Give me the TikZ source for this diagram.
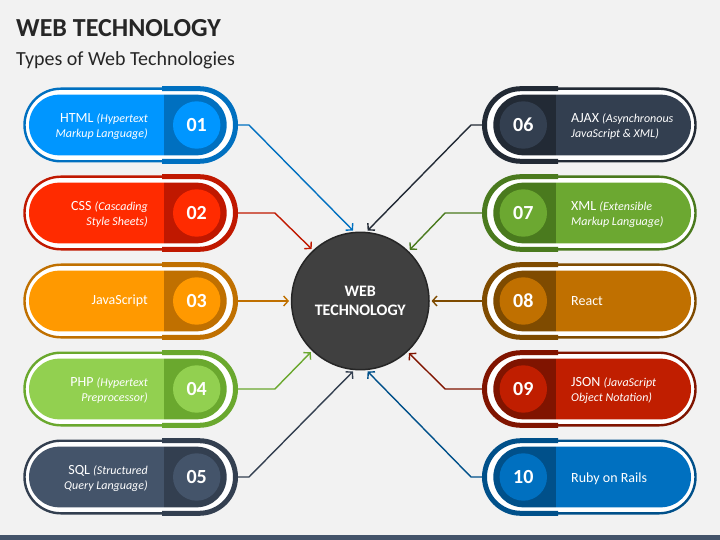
\documentclass[tikz,border=0pt]{standalone}
\usepackage{fontspec}
\setmainfont{Carlito}
\usetikzlibrary{arrows.meta}

% palette: light fill / dark accent for each item
\definecolor{bgcol}{HTML}{F2F2F2}
\definecolor{inkcol}{HTML}{262626}
\definecolor{barcol}{HTML}{44546A}
\definecolor{hubfill}{HTML}{404040}
\definecolor{hubline}{HTML}{262626}
\definecolor{cAl}{HTML}{0096FF}\definecolor{cAd}{HTML}{0070C0}
\definecolor{cBl}{HTML}{FF2B00}\definecolor{cBd}{HTML}{C01800}
\definecolor{cCl}{HTML}{FF9900}\definecolor{cCd}{HTML}{C07000}
\definecolor{cDl}{HTML}{92D050}\definecolor{cDd}{HTML}{6AA82E}
\definecolor{cEl}{HTML}{44546A}\definecolor{cEd}{HTML}{333F50}
\definecolor{cFl}{HTML}{333F50}\definecolor{cFd}{HTML}{222A35}
\definecolor{cGl}{HTML}{6CA831}\definecolor{cGd}{HTML}{4A7A1E}
\definecolor{cHl}{HTML}{C07000}\definecolor{cHd}{HTML}{7F4B00}
\definecolor{cIl}{HTML}{C01E00}\definecolor{cId}{HTML}{801400}
\definecolor{cJl}{HTML}{0070C0}\definecolor{cJd}{HTML}{00508A}

\newcommand\subnote[1]{{\fontsize{12bp}{15bp}\selectfont\itshape #1}}

% one capsule: #1 id, #2 cx, #3 cy, #4 xscale (1 = left column, -1 = right column),
% #5 light colour, #6 dark colour, #7 number
\newcommand\techpill[7]{%
  \begin{scope}[shift={(#2,#3)}, xscale=#4]
    \node[pillframe, draw=#6] (p#1) at (0,0) {};
    \begin{scope}
      \clip (32,-42) rectangle (112,42);
      \draw[draw=#6, line width=5bp, rounded corners=36.29bp]
        (-105.5,-36.3) rectangle (105.5,36.3);
    \end{scope}
    \begin{scope}
      \clip[rounded corners=30.34bp] (-101,-30.35) rectangle (96.7,30.35);
      \fill[#5] (-102,-31) rectangle (34,31);
      \fill[#6] (34,-31) rectangle (98,31);
    \end{scope}
    \node[numdisc, fill=#5] (n#1) at (66.7,0) {#7};
  \end{scope}}

\begin{document}
\begin{tikzpicture}[x=1bp, y=-1bp,
  pillframe/.style={rectangle, fill=white, line width=2.4bp, rounded corners=36.29bp,
    minimum width=211bp, minimum height=72.6bp, inner sep=0pt},
  numdisc/.style={circle, inner sep=0pt, minimum size=47.4bp, text=white,
    font=\fontsize{20bp}{20bp}\selectfont\bfseries},
  lblleft/.style={anchor=east, align=right, text=white, inner sep=0pt,
    font=\fontsize{14bp}{15bp}\selectfont},
  lblright/.style={anchor=west, align=left, text=white, inner sep=0pt,
    font=\fontsize{14bp}{15bp}\selectfont},
  conn/.style={line width=1.4bp, shorten >=1.8bp,
    -{Straight Barb[length=4.5bp, width=10bp, line width=1.4bp]}}]

  % page background and footer band
  \fill[bgcol] (0,0) rectangle (720,540);
  \useasboundingbox (0,0) rectangle (720,540);
  \fill[barcol] (0,535) rectangle (720,540);

  % heading
  \node[anchor=base west, inner sep=0pt, text=inkcol,
    font=\fontsize{26bp}{30bp}\selectfont\bfseries] (title) at (16,36.5) {WEB TECHNOLOGY};
  \node[anchor=base west, inner sep=0pt, text=inkcol,
    font=\fontsize{20bp}{24bp}\selectfont] (subtitle) at (16,66) {Types of Web Technologies};

  % central hub
  \node[circle, fill=hubfill, draw=hubline, line width=1.5bp, minimum size=137.4bp,
    inner sep=0pt, text=white, align=center,
    font=\fontsize{16bp}{19bp}\selectfont\bfseries] (hub) at (360.3,301) {WEB\\TECHNOLOGY};

  % left column
  \techpill{1}{130}{125}{1}{cAl}{cAd}{01}
  \techpill{2}{130}{213}{1}{cBl}{cBd}{02}
  \techpill{3}{130}{301}{1}{cCl}{cCd}{03}
  \techpill{4}{130}{389}{1}{cDl}{cDd}{04}
  \techpill{5}{130}{477}{1}{cEl}{cEd}{05}
  % right column
  \techpill{6}{590}{125}{-1}{cFl}{cFd}{06}
  \techpill{7}{590}{213}{-1}{cGl}{cGd}{07}
  \techpill{8}{590}{301}{-1}{cHl}{cHd}{08}
  \techpill{9}{590}{389}{-1}{cIl}{cId}{09}
  \techpill{10}{590}{477}{-1}{cJl}{cJd}{10}

  % labels
  \node[lblleft] (t1) at (148,126.3) {HTML \subnote{(Hypertext}\\\subnote{Markup Language)}};
  \node[lblleft] (t2) at (148,214.3) {CSS \subnote{(Cascading}\\\subnote{Style Sheets)}};
  \node[lblleft] (t3) at (148,301) {JavaScript};
  \node[lblleft] (t4) at (148,390.3) {PHP \subnote{(Hypertext}\\\subnote{Preprocessor)}};
  \node[lblleft] (t5) at (148,478.3) {SQL \subnote{(Structured}\\\subnote{Query Language)}};
  \node[lblright] (t6) at (571,126.3) {AJAX \subnote{(Asynchronous}\\\subnote{JavaScript \& XML)}};
  \node[lblright] (t7) at (571,214.3) {XML \subnote{(Extensible}\\\subnote{Markup Language)}};
  \node[lblright] (t8) at (571,301) {React};
  \node[lblright] (t9) at (571,390.3) {JSON \subnote{(JavaScript}\\\subnote{Object Notation)}};
  \node[lblright] (t10) at (571,478.3) {Ruby on Rails};

  % connectors into the hub
  \draw[conn, cAd] (p1.east) -- ++(12.3,0) -- (hub.95);
  \draw[conn, cBd] (p2.east) -- ++(38.2,0) -- (hub.133.5);
  \draw[conn, cCd] (p3.east) -- (hub.180);
  \draw[conn, cDd] (p4.east) -- ++(38.2,0) -- (hub.226.5);
  \draw[conn, cEd] (p5.east) -- ++(12.3,0) -- (hub.265);
  \draw[conn, cFd] (p6.west) -- ++(-12.3,0) -- (hub.85);
  \draw[conn, cGd] (p7.west) -- ++(-38.2,0) -- (hub.46.5);
  \draw[conn, cHd] (p8.west) -- (hub.0);
  \draw[conn, cId] (p9.west) -- ++(-38.2,0) -- (hub.313.5);
  \draw[conn, cJd] (p10.west) -- ++(-12.3,0) -- (hub.275);
\end{tikzpicture}
\end{document}
